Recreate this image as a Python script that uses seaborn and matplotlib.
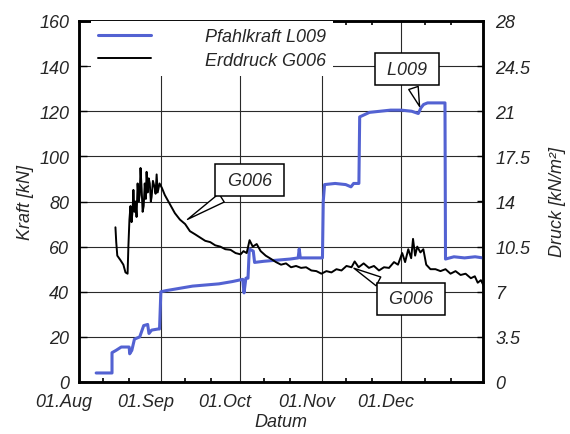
import numpy as np
import pandas as pd
import matplotlib
matplotlib.use("Agg")
import matplotlib.pyplot as plt
import matplotlib.dates as mdates
import matplotlib.transforms as mtrans
import seaborn as sns

# ---------------- data ----------------
start = pd.Timestamp("2008-08-01")

# Pfahlkraft L009 [kN]  (days after 01.Aug)
l009_day = [6.5, 12.5, 12.5, 14.0, 16.0, 19.0, 19.2, 20.0, 21.0, 23.0, 24.5, 26.0, 26.5, 27.5,
            30.0, 30.5, 31.0, 33.0, 38.0, 43.0, 48.0, 53.0, 58.0, 62.0, 62.5, 63.2, 64.0, 64.5,
            66.0, 66.5, 70.0, 75.0, 80.0, 83.0, 83.4, 83.8, 88.0, 92.2, 92.5, 93.0, 97.0,
            101.0, 103.0, 104.0, 106.0, 106.3, 110.0, 114.0, 118.0, 122.0, 126.0, 128.5,
            129.5, 130.5, 132.0, 136.0, 138.6, 138.8, 142.0, 146.0, 150.0, 153.0]
l009_kn = [4.0, 4.0, 13.0, 14.0, 15.5, 15.5, 12.5, 14.0, 19.0, 20.0, 25.0, 25.5, 21.5, 23.0,
           23.5, 23.5, 40.0, 40.5, 41.5, 42.5, 43.0, 43.5, 44.5, 45.5, 39.5, 46.0, 46.0, 59.0,
           58.0, 53.0, 53.5, 54.0, 54.5, 55.0, 59.0, 55.0, 55.0, 55.0, 80.0, 87.5, 88.0,
           87.5, 86.5, 88.0, 88.0, 117.5, 119.5, 120.0, 120.5, 120.5, 120.0, 119.0,
           121.5, 123.0, 123.7, 123.7, 123.7, 54.5, 55.5, 55.0, 55.5, 55.0]

# Erddruck G006 [kN/m2]  (days after 01.Aug)
g006_day = [13.8, 14.1, 14.5, 15.7, 16.8, 17.6, 18.4, 18.7, 19.1, 19.5, 19.9, 20.3, 20.6,
            21.0, 21.4, 21.8, 22.2, 22.6, 23.0, 23.3, 23.7, 24.1, 24.5, 24.9, 25.3, 25.6,
            26.0, 26.4, 26.8, 27.2, 27.5, 28.0, 28.7, 29.0, 29.4, 29.8, 30.5, 31.4, 32.5,
            34.4, 36.3, 38.2, 40.2, 42.0, 44.0, 45.9, 47.8, 49.7, 51.6, 53.5, 55.4, 57.4,
            59.3, 61.2, 62.3, 63.5, 64.6, 65.8, 67.3, 68.8, 70.7, 72.7, 74.6, 76.5, 78.4,
            80.3, 82.2, 84.1, 86.0, 88.0, 89.9, 91.8, 93.7, 95.6, 97.5, 99.4, 101.3, 103.2,
            104.4, 105.9, 107.8, 109.8, 111.7, 113.6, 115.5, 117.4, 119.3, 120.8, 122.4,
            123.5, 124.7, 125.8, 126.5, 127.3, 128.1, 129.3, 130.4, 131.5, 133.1, 135.0,
            136.9, 138.8, 140.7, 142.6, 144.5, 146.4, 148.4, 149.9, 151.0, 152.2, 153.3]
g006_press = [12.0, 10.85, 9.8, 9.45, 9.1, 8.5, 8.4, 10.5, 12.6, 13.65, 12.4, 13.3, 14.9,
              13.2, 14.0, 12.8, 15.4, 14.0, 14.5, 16.6, 15.05, 13.2, 13.65, 15.4, 14.2, 16.3,
              14.7, 15.8, 15.4, 14.0, 14.35, 15.6, 15.05, 14.6, 16.1, 14.7, 15.4, 15.05, 14.5,
              13.8, 13.1, 12.6, 12.25, 11.7, 11.45, 11.2, 10.95, 10.85, 10.6, 10.5, 10.3,
              10.25, 10.0, 9.9, 10.15, 10.0, 11.0, 10.5, 10.7, 10.15, 9.8, 9.55, 9.3, 9.1,
              9.2, 8.9, 9.0, 8.85, 8.9, 8.65, 8.6, 8.4, 8.6, 8.5, 8.75, 8.65, 9.0, 8.9,
              9.35, 8.9, 9.2, 8.85, 9.0, 8.65, 8.9, 8.85, 9.3, 9.1, 10.0, 9.3, 10.3, 9.6,
              11.1, 9.8, 10.5, 10.05, 10.3, 9.1, 8.75, 8.75, 8.6, 8.75, 8.4, 8.6, 8.3, 8.4,
              8.05, 8.2, 7.7, 7.9, 7.45]

x_tick_dates = ["2008-08-01", "2008-09-01", "2008-10-01", "2008-11-01", "2008-12-01"]
x_tick_labels = ["01.Aug", "01.Sep", "01.Oct", "01.Nov", "01.Dec"]
x_end = "2009-01-01"
kraft_ticks = [0, 20, 40, 60, 80, 100, 120, 140, 160]
druck_ticks = [0, 3.5, 7, 10.5, 14, 17.5, 21, 24.5, 28]
druck_labels = ["0", "3.5", "7", "10.5", "14", "17.5", "21", "24.5", "28"]

# ---------------- style ----------------
sns.set_style("white")
plt.rcParams["font.family"] = ["Liberation Sans", "DejaVu Sans"]
plt.rcParams["font.style"] = "italic"
FS = 13

df_l = pd.DataFrame({"Datum": start + pd.to_timedelta(l009_day, unit="D"), "Kraft": l009_kn})
df_g = pd.DataFrame({"Datum": start + pd.to_timedelta(g006_day, unit="D"), "Druck": g006_press})

fig = plt.figure(figsize=(5.7, 4.35), dpi=100)
ax = fig.add_axes([79 / 570, 1 - 383 / 435, (483 - 79) / 570, (383 - 22) / 435])
ax2 = ax.twinx()

sns.lineplot(data=df_l, x="Datum", y="Kraft", estimator=None, sort=False, ax=ax,
             color="#5362d2", lw=2.2, label="Pfahlkraft L009", zorder=3)
sns.lineplot(data=df_g, x="Datum", y="Druck", estimator=None, sort=False, ax=ax2,
             color="black", lw=1.4, label="Erddruck G006", zorder=3)

ax.set_xlim(pd.Timestamp(x_tick_dates[0]), pd.Timestamp(x_end))
ax.set_ylim(kraft_ticks[0], kraft_ticks[-1])
ax2.set_ylim(druck_ticks[0], druck_ticks[-1])

ax.set_xticks(pd.to_datetime(x_tick_dates))
ax.set_xticklabels(x_tick_labels)
ax.xaxis.set_minor_locator(mdates.DayLocator(bymonthday=[10, 20]))
ax.set_yticks(kraft_ticks)
ax2.set_yticks(druck_ticks)
ax2.set_yticklabels(druck_labels)

ax.grid(True, which="major", color="#2a2a2a", lw=0.8)
ax2.grid(False)

ax.tick_params(axis="x", which="both", direction="in", top=True, bottom=True,
               labelsize=FS, pad=8, color="black")
ax.tick_params(axis="x", which="major", length=0)
ax.tick_params(axis="x", which="minor", length=3, width=1.2)
ax.tick_params(axis="y", which="major", direction="in", length=6, width=1,
               labelsize=FS, pad=7, color="black")
ax2.tick_params(axis="y", which="major", direction="in", length=4, width=1,
                labelsize=FS, pad=9, color="black")
for lab in ax2.get_yticklabels():
    lab.set_horizontalalignment("left")

offset = mtrans.ScaledTranslation(-15 / 100, 0, fig.dpi_scale_trans)
for lab in ax.get_xticklabels():
    lab.set_transform(lab.get_transform() + offset)

for a in (ax, ax2):
    for s in a.spines.values():
        s.set_visible(True)
        s.set_color("black")
        s.set_linewidth(1.8)

ax.set_xlabel("Datum", fontsize=FS, labelpad=2)
ax.set_ylabel("Kraft [kN]", fontsize=FS, labelpad=4)
ax2.set_ylabel("Druck [kN/m²]", fontsize=FS, labelpad=13)

# legend
h1, l1 = ax.get_legend_handles_labels()
h2, l2 = ax2.get_legend_handles_labels()
if ax.get_legend() is not None:
    ax.get_legend().remove()
leg = ax2.legend(h1 + h2, l1 + l2, loc="upper left", bbox_to_anchor=(0.03, 1.0),
                 borderaxespad=0, frameon=True, framealpha=1, facecolor="white",
                 edgecolor="none", fancybox=False, handlelength=2.9, handletextpad=3.0,
                 fontsize=FS, borderpad=0.4, labelspacing=0.35)
leg.get_frame().set_linewidth(0)

# callouts
def callout(text, xy_day, xy_val, txt_day, txt_val):
    ax2.annotate(text,
                 xy=(mdates.date2num(start + pd.Timedelta(days=xy_day)), xy_val),
                 xycoords=ax.transData,
                 xytext=(mdates.date2num(start + pd.Timedelta(days=txt_day)), txt_val),
                 textcoords=ax.transData, ha="center", va="center", fontsize=FS,
                 bbox=dict(boxstyle="square,pad=0.4", fc="white", ec="black", lw=1.1),
                 arrowprops=dict(arrowstyle="wedge,tail_width=0.55,shrink_factor=0.5",
                                 fc="white", ec="black", lw=1.0), zorder=5)

callout(" G006 ", 40.2, 71.4, 64.6, 89.5)
callout(" G006 ", 103.2, 51.0, 125.8, 36.8)
callout(" L009 ", 129.3, 121.0, 124.3, 138.7)

fig.savefig("out.png", dpi=100)
